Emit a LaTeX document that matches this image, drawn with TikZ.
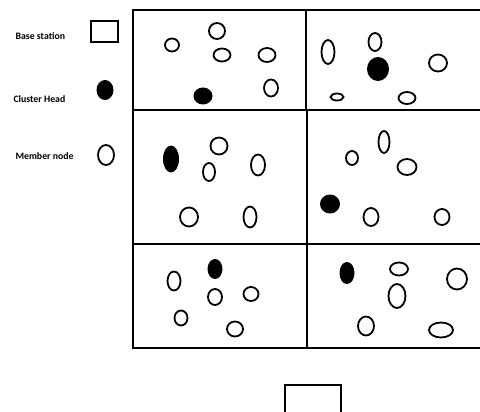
\documentclass[tikz,border=0pt]{standalone}
\usepackage{fontspec}
\setmainfont{Carlito}
\usetikzlibrary{shapes.geometric}
\tikzset{
  member/.style={ellipse,draw,line width=1.8pt,inner sep=0pt},
  head/.style={ellipse,fill=black,inner sep=0pt},
  legendtext/.style={anchor=west,font=\fontsize{9.8}{11}\selectfont\bfseries},
  gridline/.style={line width=2pt}
}
\begin{document}
\begin{tikzpicture}[x=1pt,y=-1pt]
  \useasboundingbox (0,0) rectangle (480,412);
  \clip (0,0) rectangle (480,412);
  % legend
  \node[legendtext] (lbase) at (12,36) {Base station};
  \node[legendtext] (lhead) at (10,99) {Cluster Head};
  \node[legendtext] (lmember) at (12,156) {Member node};
  \node[draw,line width=2pt,minimum width=27pt,minimum height=21pt,inner sep=0pt] (kbase) at (104,32) {};
  \node[head,minimum width=17pt,minimum height=20pt] (khead) at (105,90) {};
  \node[member,minimum width=16pt,minimum height=20pt] (kmember) at (106,155) {};
  % field grid
  \draw[gridline] (480,10) -- (133,10) -- (133,348) -- (480,348);
  \draw[gridline] (133,110) -- (480,110);
  \draw[gridline] (133,244) -- (480,244);
  \draw[gridline] (306,10) -- (306,110);
  \draw[gridline] (307,110) -- (307,244);
  \draw[gridline] (307,244) -- (307,348);
  % cell 1
  \node[member,minimum width=14pt,minimum height=13pt] (a1) at (172,45) {};
  \node[member,minimum width=16pt,minimum height=16pt] (a2) at (217,31) {};
  \node[member,minimum width=17pt,minimum height=13pt] (a3) at (222,55) {};
  \node[member,minimum width=17pt,minimum height=14pt] (a4) at (267,55) {};
  \node[member,minimum width=14pt,minimum height=17pt] (a5) at (271,88) {};
  \node[head,minimum width=19pt,minimum height=17pt] (ah) at (203,96) {};
  % cell 2
  \node[member,minimum width=13pt,minimum height=24pt] (b1) at (328,52) {};
  \node[member,minimum width=13pt,minimum height=18pt] (b2) at (375,42) {};
  \node[head,minimum width=22pt,minimum height=24pt] (bh) at (378,69) {};
  \node[member,minimum width=18pt,minimum height=17pt] (b3) at (438,63) {};
  \node[member,minimum width=13pt,minimum height=7pt] (b4) at (337,97) {};
  \node[member,minimum width=17pt,minimum height=12pt] (b5) at (407,98) {};
  % cell 3
  \node[head,minimum width=16pt,minimum height=27pt] (ch) at (171,159) {};
  \node[member,minimum width=17pt,minimum height=17pt] (c1) at (219,146) {};
  \node[member,minimum width=12pt,minimum height=18pt] (c2) at (209,172) {};
  \node[member,minimum width=14pt,minimum height=21pt] (c3) at (258,165) {};
  \node[member,minimum width=18pt,minimum height=19pt] (c4) at (189,217) {};
  \node[member,minimum width=13pt,minimum height=21pt] (c5) at (250,217) {};
  % cell 4
  \node[member,minimum width=11pt,minimum height=22pt] (d1) at (384,142) {};
  \node[member,minimum width=12pt,minimum height=14pt] (d2) at (352,158) {};
  \node[member,minimum width=19pt,minimum height=16pt] (d3) at (407,167) {};
  \node[head,minimum width=20pt,minimum height=19pt] (dh) at (330,204) {};
  \node[member,minimum width=15pt,minimum height=18pt] (d4) at (371,217) {};
  \node[member,minimum width=15pt,minimum height=16pt] (d5) at (442,217) {};
  % cell 5
  \node[head,minimum width=15pt,minimum height=20pt] (eh) at (215,269) {};
  \node[member,minimum width=13pt,minimum height=19pt] (e1) at (174,281) {};
  \node[member,minimum width=14pt,minimum height=16pt] (e2) at (215,297) {};
  \node[member,minimum width=15pt,minimum height=14pt] (e3) at (251,294) {};
  \node[member,minimum width=13pt,minimum height=15pt] (e4) at (181,318) {};
  \node[member,minimum width=16pt,minimum height=15pt] (e5) at (235,329) {};
  % cell 6
  \node[head,minimum width=15pt,minimum height=22pt] (fh) at (347,273) {};
  \node[member,minimum width=18pt,minimum height=13pt] (f1) at (399,269) {};
  \node[member,minimum width=17pt,minimum height=24pt] (f2) at (397,296) {};
  \node[member,minimum width=20pt,minimum height=21pt] (f3) at (457,279) {};
  \node[member,minimum width=16pt,minimum height=19pt] (f4) at (366,326) {};
  \node[member,minimum width=24pt,minimum height=15pt] (f5) at (441,330) {};
  % base station
  \node[draw,line width=2pt,minimum width=56pt,minimum height=36pt,inner sep=0pt,anchor=north west] (base) at (284,384) {};
\end{tikzpicture}
\end{document}
